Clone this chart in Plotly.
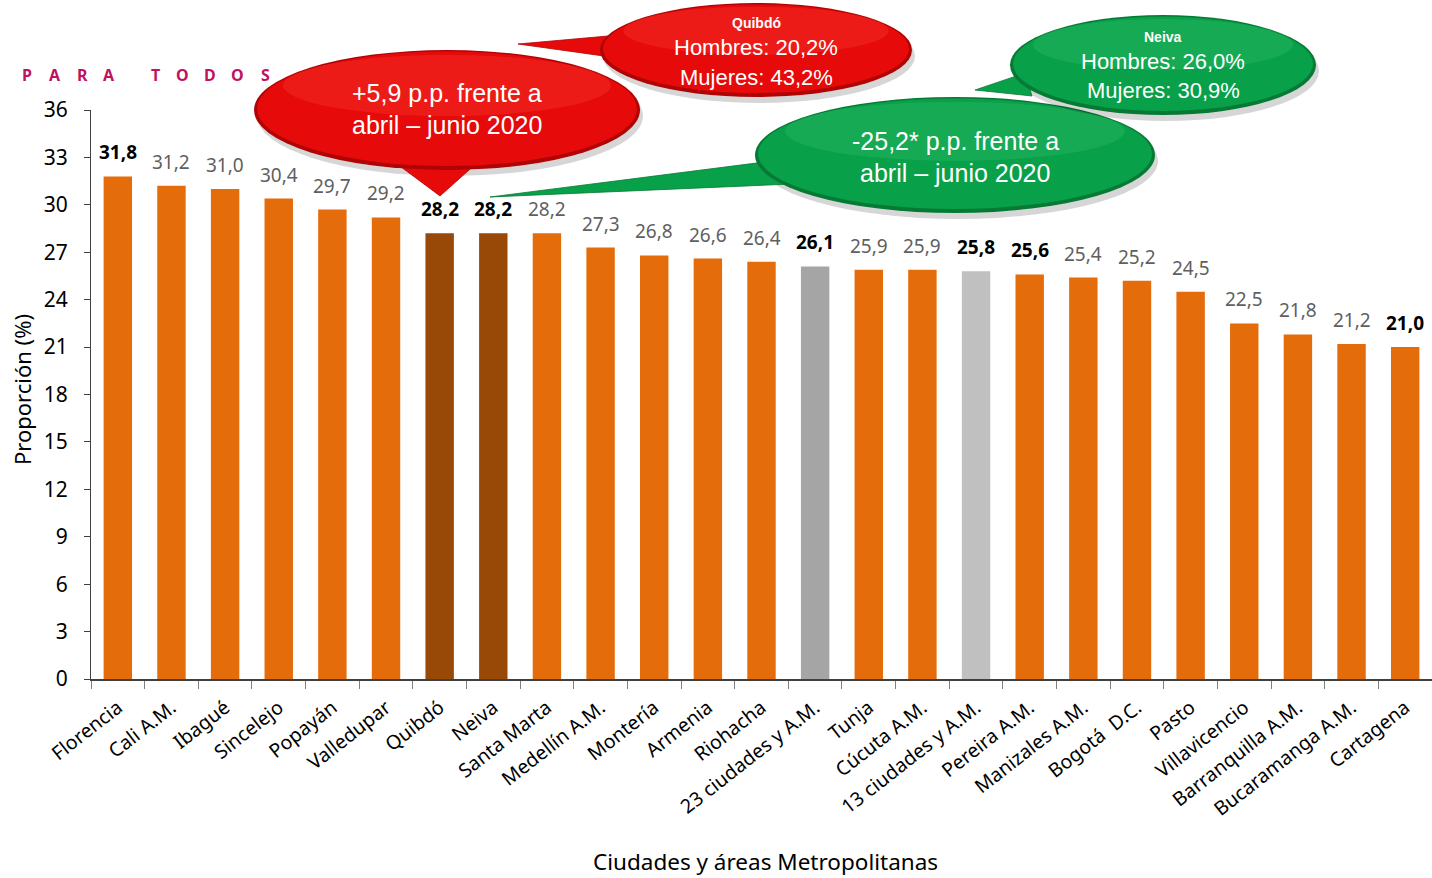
import plotly.graph_objects as go

# ---------------- data ----------------
categories = ["Florencia", "Cali A.M.", "Ibagué", "Sincelejo", "Popayán", "Valledupar",
              "Quibdó", "Neiva", "Santa Marta", "Medellín A.M.", "Montería", "Armenia",
              "Riohacha", "23 ciudades y A.M.", "Tunja", "Cúcuta A.M.", "13 ciudades y A.M.",
              "Pereira A.M.", "Manizales A.M.", "Bogotá  D.C.", "Pasto", "Villavicencio",
              "Barranquilla A.M.", "Bucaramanga A.M.", "Cartagena"]
values = [31.8, 31.2, 31.0, 30.4, 29.7, 29.2, 28.2, 28.2, 28.2, 27.3, 26.8, 26.6, 26.4,
          26.1, 25.9, 25.9, 25.8, 25.6, 25.4, 25.2, 24.5, 22.5, 21.8, 21.2, 21.0]
bold_labels = ["Florencia", "Quibdó", "Neiva", "23 ciudades y A.M.", "13 ciudades y A.M.",
               "Pereira A.M.", "Cartagena"]
y_ticks = [0, 3, 6, 9, 12, 15, 18, 21, 24, 27, 30, 33, 36]

# ---------------- styles ----------------
ORANGE = "#E46C0A"
BROWN = "#984807"
special_colors = {"Quibdó": BROWN, "Neiva": BROWN,
                  "23 ciudades y A.M.": "#A5A5A5", "13 ciudades y A.M.": "#C0C0C0"}
bar_colors = [special_colors.get(c, ORANGE) for c in categories]

W, H = 1432, 878
L, R, T, B = 91, 0, 110, 199
PW, PH = W - L - R, H - T - B


def px(x):
    return (x - L) / PW


def py(y):
    return (H - B - y) / PH


fig = go.Figure()
fig.add_trace(go.Bar(x=categories, y=values, marker=dict(color=bar_colors, line=dict(width=0)),
                     hoverinfo="x+y"))

annotations = []
# data labels
for c, v in zip(categories, values):
    txt = f"{v:.1f}".replace(".", ",")
    is_bold = c in bold_labels
    annotations.append(dict(
        x=c, y=v, xref="x", yref="y", xanchor="center", yanchor="bottom", yshift=9,
        text=f"<b>{txt}</b>" if is_bold else txt, showarrow=False,
        font=dict(family="Noto Sans", size=19, color="#000000" if is_bold else "#5F5F5F")))

# axis titles
annotations.append(dict(x=px(22), y=py(390), xref="paper", yref="paper", text="Proporción (%)",
                        textangle=-90, showarrow=False, xanchor="center", yanchor="middle",
                        font=dict(family="Noto Sans", size=22, color="#000000")))
annotations.append(dict(x=px(765), y=py(861), xref="paper", yref="paper",
                        text="Ciudades y áreas Metropolitanas", showarrow=False,
                        xanchor="center", yanchor="middle",
                        font=dict(family="Noto Sans", size=22.5, color="#000000")))

# "PARA TODOS" header letters
letters = "PARA TODOS"
lx = [27, 55, 82, 109, None, 155, 182, 210, 237, 265]
for ch, xx in zip(letters, lx):
    if ch == " ":
        continue
    annotations.append(dict(x=px(xx), y=py(75), xref="paper", yref="paper", text=f"<b>{ch}</b>",
                            showarrow=False, xanchor="center", yanchor="middle",
                            font=dict(family="Noto Sans", size=16, color="#C0135F")))

shapes = []


def bubble(cx, cy, rx, ry, b1, b2, tip, color, shade, light):
    # shadow
    shapes.append(dict(type="circle", xref="paper", yref="paper",
                       x0=px(cx - rx + 3), x1=px(cx + rx + 3), y0=py(cy + ry + 6), y1=py(cy - ry + 6),
                       fillcolor="rgba(0,0,0,0.16)", line=dict(width=0), layer="above"))
    # tail
    shapes.append(dict(type="path", xref="paper", yref="paper",
                       path=f"M {px(b1[0])},{py(b1[1])} L {px(tip[0])},{py(tip[1])} L {px(b2[0])},{py(b2[1])} Z",
                       fillcolor=color, line=dict(color=shade, width=0.8), layer="above"))
    # ellipse (darker rim)
    shapes.append(dict(type="circle", xref="paper", yref="paper",
                       x0=px(cx - rx), x1=px(cx + rx), y0=py(cy + ry), y1=py(cy - ry),
                       fillcolor=shade, line=dict(width=0), layer="above"))
    # inner body
    shapes.append(dict(type="circle", xref="paper", yref="paper",
                       x0=px(cx - rx + 3), x1=px(cx + rx - 3), y0=py(cy + ry - 4), y1=py(cy - ry + 1.5),
                       fillcolor=color, line=dict(width=0), layer="above"))
    # soft highlight
    shapes.append(dict(type="circle", xref="paper", yref="paper",
                       x0=px(cx - rx * 0.85), x1=px(cx + rx * 0.85), y0=py(cy + ry * 0.1),
                       y1=py(cy - ry * 0.92),
                       fillcolor=light, line=dict(width=0), layer="above"))


RED, RED_D, RED_L = "#E60A0A", "#B00404", "rgba(255,70,60,0.30)"
GREEN, GREEN_D, GREEN_L = "#09A04A", "#067A34", "rgba(60,200,110,0.25)"

bubble(447, 110, 193, 60, (385, 155), (478, 162), (440, 196), RED, RED_D, RED_L)
bubble(756, 50, 156, 47, (608, 36), (618, 58), (518, 44), RED, RED_D, RED_L)
bubble(955, 155, 200, 58, (780, 160), (792, 184), (490, 197), GREEN, GREEN_D, GREEN_L)
bubble(1163, 65, 153, 50, (1025, 73), (1032, 96), (975, 90), GREEN, GREEN_D, GREEN_L)


def btext(x, y, t, size, bold=False):
    annotations.append(dict(x=px(x), y=py(y), xref="paper", yref="paper",
                            text=f"<b>{t}</b>" if bold else t, showarrow=False,
                            xanchor="center", yanchor="middle",
                            font=dict(family="Liberation Sans", size=size, color="#FFFFFF")))


btext(447, 93, "+5,9 p.p. frente a", 25)
btext(447, 125, "abril – junio 2020", 25)
btext(756, 23, "Quibdó", 14, bold=True)
btext(756, 48, "Hombres: 20,2%", 22)
btext(756, 77, "Mujeres: 43,2%", 22)
btext(955, 141, "-25,2* p.p. frente a", 25)
btext(955, 173, "abril – junio 2020", 25)
btext(1163, 37, "Neiva", 14, bold=True)
btext(1163, 62, "Hombres: 26,0%", 22)
btext(1163, 91, "Mujeres: 30,9%", 22)

fig.update_layout(
    width=W, height=H, margin=dict(l=L, r=R, t=T, b=B),
    paper_bgcolor="white", plot_bgcolor="white",
    showlegend=False, bargap=0.47,
    annotations=annotations, shapes=shapes,
    xaxis=dict(type="category", tickangle=-38, tickson="boundaries", ticks="outside",
               ticklen=8, tickcolor="#808080", showline=True, linecolor="#404040", linewidth=1.5,
               showgrid=False, tickfont=dict(family="Noto Sans", size=19.5, color="#000000"),
               ticklabelstandoff=8, automargin=False),
    yaxis=dict(range=[0, 36], tickvals=y_ticks, ticks="outside", ticklen=6, tickcolor="#404040",
               showline=True, linecolor="#404040", linewidth=1.2, showgrid=False, zeroline=False,
               tickfont=dict(family="Noto Sans", size=21, color="#000000"),
               ticklabelstandoff=12, automargin=False),
)

fig.write_html("out.html", config={"displayModeBar": False},
               post_script="document.body.style.margin='0';document.body.style.overflow='hidden';")
